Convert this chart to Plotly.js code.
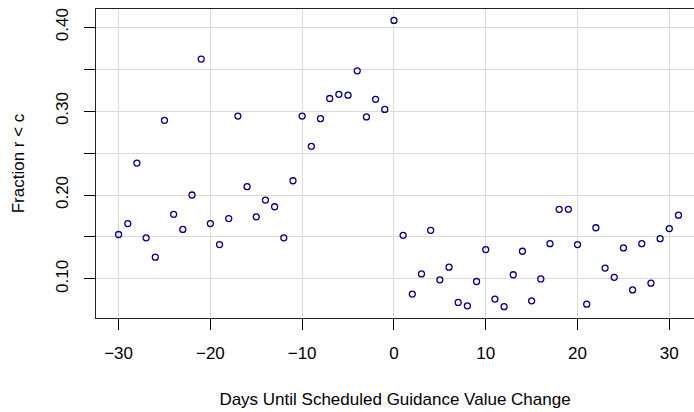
<!DOCTYPE html>
<html>
<head>
<meta charset="utf-8">
<script src="https://cdn.plot.ly/plotly-3.0.1.min.js"></script>
<style>
  html, body { margin: 0; padding: 0; background: #ffffff; }
  #chart { width: 694px; height: 412px; }
</style>
</head>
<body>
<div id="chart"></div>
<script>
// Days until scheduled guidance value change
var days = [-30,-29,-28,-27,-26,-25,-24,-23,-22,-21,-20,-19,-18,-17,-16,-15,-14,-13,-12,-11,
            -10,-9,-8,-7,-6,-5,-4,-3,-2,-1,0,1,2,3,4,5,6,7,8,9,
            10,11,12,13,14,15,16,17,18,19,20,21,22,23,24,25,26,27,28,29,30,31];
// Fraction r < c
var fraction = [0.153,0.166,0.238,0.149,0.126,0.289,0.177,0.159,0.200,0.362,0.166,0.141,0.172,0.294,0.210,0.174,0.194,0.186,0.149,0.217,
                0.294,0.258,0.291,0.315,0.320,0.319,0.348,0.293,0.314,0.302,0.408,0.152,0.082,0.106,0.158,0.099,0.114,0.072,0.068,0.097,
                0.135,0.076,0.067,0.105,0.133,0.074,0.100,0.142,0.183,0.183,0.141,0.070,0.161,0.113,0.102,0.137,0.087,0.142,0.095,0.148,0.160,0.176];

var xTickVals = [-30,-20,-10,0,10,20,30];
var xTickText = ['\u221230','\u221220','\u221210','0','10','20','30'];
var yTickVals = [0.10,0.15,0.20,0.25,0.30,0.35,0.40];
var yTickText = ['0.10','','0.20','','0.30','','0.40'];

var xTitle = 'Days Until Scheduled Guidance Value Change';
var yTitle = 'Fraction r < c';

var font = { family: 'Liberation Sans, Arial, Helvetica, sans-serif', size: 17, color: '#000000' };

var trace = {
  type: 'scatter',
  mode: 'markers',
  x: days,
  y: fraction,
  marker: {
    symbol: 'circle-open',
    size: 6,
    color: '#000080',
    line: { width: 1.3, color: '#000080' }
  },
  hoverinfo: 'x+y'
};

var layout = {
  width: 694,
  height: 412,
  margin: { l: 96, r: 0, t: 9, b: 94 },
  paper_bgcolor: '#ffffff',
  plot_bgcolor: '#ffffff',
  showlegend: false,
  font: font,
  xaxis: {
    range: [-32.46, 32.69],
    tickmode: 'array',
    tickvals: xTickVals,
    ticktext: xTickText,
    ticks: 'outside',
    ticklen: 11,
    tickwidth: 1,
    tickcolor: '#000000',
    showline: true,
    mirror: true,
    linecolor: '#222222',
    linewidth: 1,
    showgrid: true,
    gridcolor: '#d9d9d9',
    gridwidth: 1,
    zeroline: false,
    tickfont: font,
    ticklabelstandoff: 9,
    title: { text: xTitle, font: font, standoff: 30 },
    automargin: false
  },
  yaxis: {
    range: [0.0535, 0.4216],
    tickmode: 'array',
    tickvals: yTickVals,
    ticktext: yTickText,
    ticks: 'outside',
    ticklen: 11,
    tickwidth: 1,
    tickcolor: '#000000',
    tickangle: -90,
    showline: true,
    mirror: false,
    linecolor: '#222222',
    linewidth: 1,
    showgrid: true,
    gridcolor: '#d9d9d9',
    gridwidth: 1,
    zeroline: false,
    tickfont: font,
    ticklabelstandoff: 9,
    title: { text: yTitle, font: font, standoff: 24 },
    automargin: false
  }
};

Plotly.newPlot('chart', [trace], layout, { displayModeBar: false, staticPlot: true });
</script>
</body>
</html>
